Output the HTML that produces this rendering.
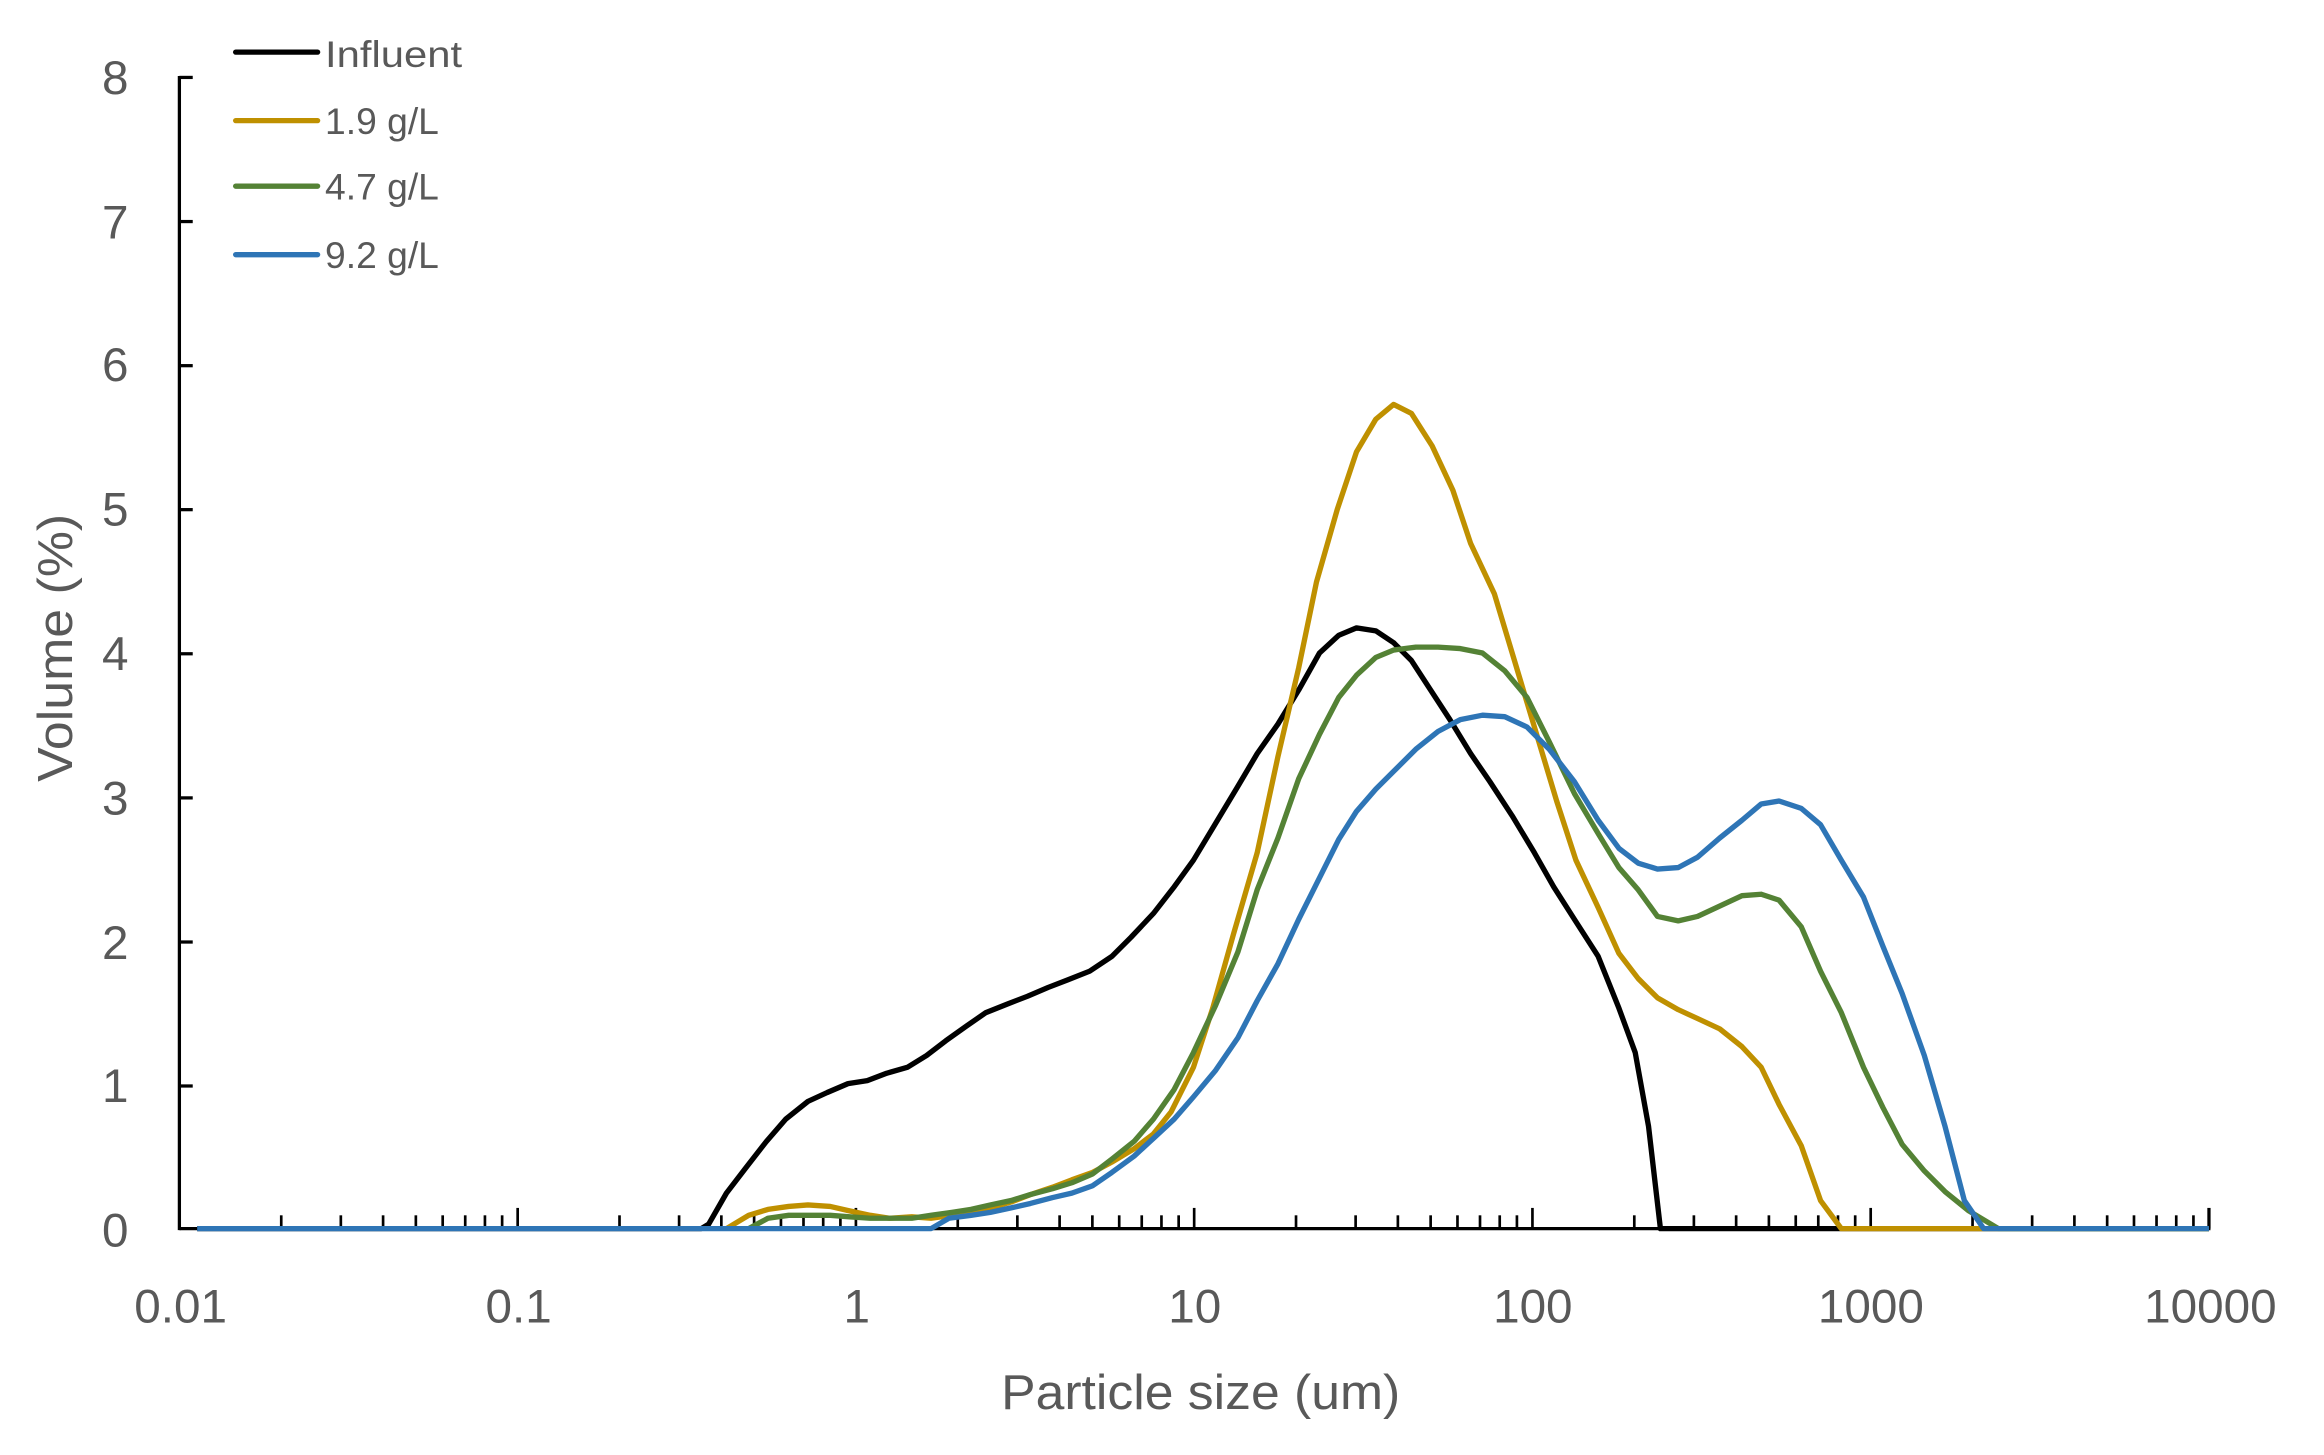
<!DOCTYPE html>
<html><head><meta charset="utf-8"><style>html,body{margin:0;padding:0;background:#fff}svg{display:block}text{font-family:"Liberation Sans Narrow","Liberation Sans",sans-serif;fill:#595959}</style></head>
<body>
<svg width="2324" height="1455" viewBox="0 0 1560 977" xmlns="http://www.w3.org/2000/svg">
<defs>
<g id="dec" stroke="#000" stroke-width="1.8">
<line x1="0" y1="829" x2="0" y2="815"/>
<line x1="68.7" y1="829" x2="68.7" y2="820"/>
<line x1="108.9" y1="829" x2="108.9" y2="820"/>
<line x1="137.4" y1="829" x2="137.4" y2="820"/>
<line x1="159.5" y1="829" x2="159.5" y2="820"/>
<line x1="177.6" y1="829" x2="177.6" y2="820"/>
<line x1="192.8" y1="829" x2="192.8" y2="820"/>
<line x1="206.1" y1="829" x2="206.1" y2="820"/>
<line x1="217.7" y1="829" x2="217.7" y2="820"/>
</g>
</defs>
<g transform="matrix(0.99548,0,0,0.99358,-0.253,1.321)">
<g stroke="#000" stroke-width="2.2" fill="none">
<line x1="121" y1="50" x2="121" y2="830"/>
<line x1="121" y1="829" x2="1491" y2="829"/>
<line x1="1490" y1="829" x2="1490" y2="815"/>
<line x1="121" y1="51" x2="130" y2="51"/>
<line x1="121" y1="148.4" x2="130" y2="148.4"/>
<line x1="121" y1="245.8" x2="130" y2="245.8"/>
<line x1="121" y1="343.1" x2="130" y2="343.1"/>
<line x1="121" y1="440.5" x2="130" y2="440.5"/>
<line x1="121" y1="537.9" x2="130" y2="537.9"/>
<line x1="121" y1="635.3" x2="130" y2="635.3"/>
<line x1="121" y1="732.6" x2="130" y2="732.6"/>
</g>
<use href="#dec" x="121"/><use href="#dec" x="349.17"/><use href="#dec" x="577.33"/><use href="#dec" x="805.5"/><use href="#dec" x="1033.67"/><use href="#dec" x="1261.83"/>
<g fill="none" stroke-width="3.6" stroke-linejoin="round">
<polyline stroke="#000" points="133,829 473,829 478,826 490,805 503,788 517,770 530,755 545,743 558,737 572,731 585,729 598,724 612,720 625,712 638,702 652,692 665,683 680,677 693,672 707,666 720,661 735,655 750,645 763,632 778,616 792,598 805,580 820,555 835,530 848,508 862,488 876,465 890,440 903,428 915,423 928,425 940,433 952,445 965,465 978,485 992,508 1005,527 1020,550 1035,575 1048,598 1062,620 1078,645 1092,680 1103,710 1112,760 1120,829 1490,829"/>
<polyline stroke="#bf9000" points="490,829 505,820 518,816 532,814 545,813 560,814 573,817 587,820 600,822 615,821 628,822 642,820 655,817 668,815 682,811 695,806 710,801 723,796 737,791 750,784 765,775 778,765 790,750 805,720 818,680 832,630 848,575 862,510 876,450 888,392 902,343 915,304 928,282 940,272 952,278 966,300 980,330 992,366 1008,400 1020,440 1035,490 1050,540 1063,580 1078,612 1092,643 1105,660 1118,673 1132,681 1145,687 1160,694 1175,706 1188,720 1200,745 1215,773 1228,810 1242,829 1490,829"/>
<polyline stroke="#548235" points="505,829 518,822 532,820 545,820 560,820 573,821 587,822 600,822 615,822 628,820 642,818 655,816 668,813 682,810 695,806 710,802 723,798 737,792 750,782 765,770 778,755 792,735 805,710 820,678 835,642 848,600 862,565 876,525 890,495 903,470 915,455 928,443 940,438 955,436 970,436 985,437 1000,440 1015,452 1030,470 1045,500 1062,535 1078,562 1092,585 1105,600 1118,618 1132,621 1145,618 1160,611 1175,604 1188,603 1200,607 1215,625 1228,655 1242,683 1257,720 1270,747 1283,772 1298,790 1312,804 1328,817 1348,829 1490,829"/>
<polyline stroke="#2e75b6" points="133,829 628,829 640,822 655,820 668,818 682,815 695,812 710,808 723,805 737,800 750,791 765,780 778,768 792,755 805,740 820,722 835,700 848,675 862,650 876,620 890,592 903,566 915,547 928,532 940,520 955,505 970,493 985,485 1000,482 1015,483 1030,490 1045,505 1062,527 1078,553 1092,572 1105,582 1118,586 1132,585 1145,578 1160,565 1175,553 1188,542 1200,540 1215,545 1228,556 1242,580 1257,605 1270,638 1283,670 1298,712 1312,760 1325,810 1338,829 1490,829"/>
</g>
</g>
<g font-size="32" text-anchor="end">
<text x="86" y="837">0</text><text x="86" y="740">1</text><text x="86" y="644">2</text><text x="86" y="547">3</text><text x="86" y="450">4</text><text x="86" y="353">5</text><text x="86" y="256">6</text><text x="86" y="160">7</text><text x="86" y="63">8</text>
</g>
<g font-size="32" text-anchor="middle">
<text x="121" y="888">0.01</text><text x="348" y="888">0.1</text><text x="575" y="888">1</text><text x="802" y="888">10</text><text x="1029" y="888">100</text><text x="1256" y="888">1000</text><text x="1484" y="888">10000</text>
</g>
<text x="672" y="946" font-size="33" textLength="268" lengthAdjust="spacingAndGlyphs">Particle size (um)</text>
<text transform="translate(48,525) rotate(-90)" font-size="33" textLength="180" lengthAdjust="spacingAndGlyphs">Volume (%)</text>
<g stroke-width="3.6" stroke-linecap="round">
<line x1="158" y1="35" x2="213" y2="35" stroke="#000"/>
<line x1="158" y1="81" x2="213" y2="81" stroke="#bf9000"/>
<line x1="158" y1="125" x2="213" y2="125" stroke="#548235"/>
<line x1="158" y1="171" x2="213" y2="171" stroke="#2e75b6"/>
</g>
<g font-size="25">
<text x="218" y="45" textLength="92" lengthAdjust="spacingAndGlyphs">Influent</text><text x="218" y="90">1.9 g/L</text><text x="218" y="134">4.7 g/L</text><text x="218" y="180">9.2 g/L</text>
</g>
</svg>
</body></html>
